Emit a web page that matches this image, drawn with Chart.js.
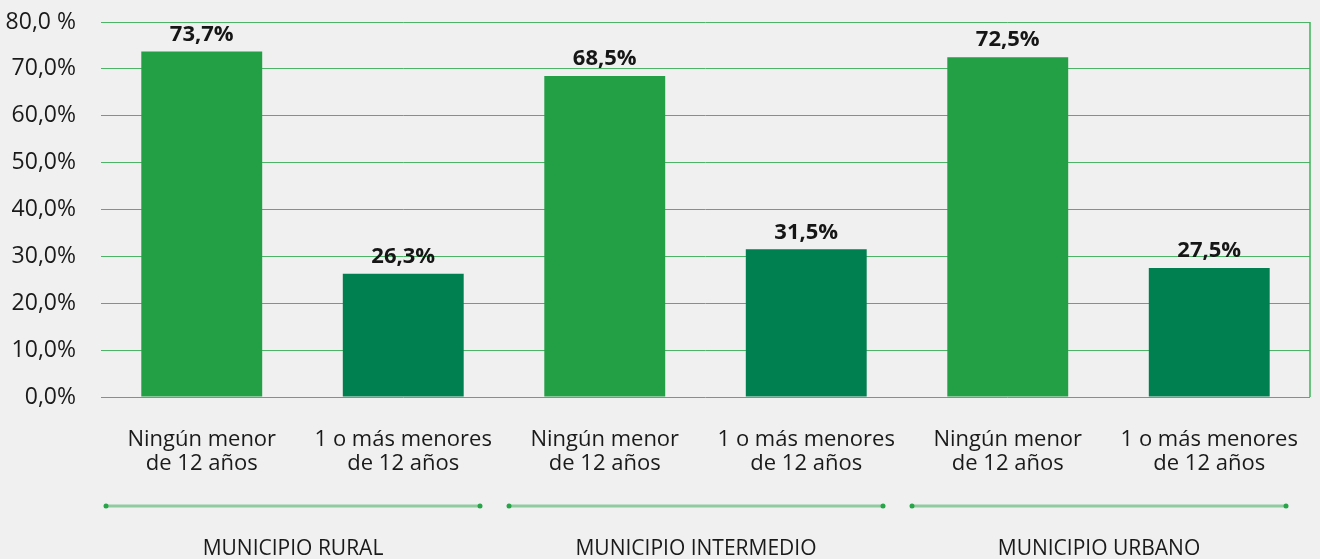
<!DOCTYPE html>
<html>
<head>
<meta charset="utf-8">
<script src="https://cdn.jsdelivr.net/npm/chart.js@4.4.1/dist/chart.umd.min.js"></script>
<style>
    html, body { margin: 0; padding: 0; background: #f0f0f0; }
    #wrap { width: 1320px; height: 559px; }
</style>
</head>
<body>
<div id="wrap"><canvas id="CanvasMenores"></canvas></div>
<script>
// categories (two-line labels under each bar)
const barLabels = [
    ["Ningún menor", "de 12 años"], ["1 o más menores", "de 12 años"],
    ["Ningún menor", "de 12 años"], ["1 o más menores", "de 12 años"],
    ["Ningún menor", "de 12 años"], ["1 o más menores", "de 12 años"]
];
const groupLabels = ["MUNICIPIO RURAL", "MUNICIPIO INTERMEDIO", "MUNICIPIO URBANO"];
const percentValues = [73.7, 26.3, 68.5, 31.5, 72.5, 27.5];
const valueLabels = ["73,7%", "26,3%", "68,5%", "31,5%", "72,5%", "27,5%"];
const yTickLabels = ["0,0%", "10,0%", "20,0%", "30,0%", "40,0%", "50,0%", "60,0%", "70,0%", "80,0 %"];

const barColors = ["#239f46", "#008051", "#239f46", "#008051", "#239f46", "#008051"];

// draws the value labels, right border and the group lines under the axis
const extrasPlugin = {
    id: 'extras',
    afterDatasetsDraw(chart) {
        const ctx = chart.ctx;
        const area = chart.chartArea;
        const xScale = chart.scales.x;
        const meta = chart.getDatasetMeta(0);

        ctx.save();
        // right border of the plot
        ctx.strokeStyle = "#3cb55a";
        ctx.lineWidth = 1.5;
        ctx.beginPath();
        ctx.moveTo(area.right, area.top);
        ctx.lineTo(area.right, area.bottom);
        ctx.stroke();

        // values above bars
        ctx.fillStyle = "#161616";
        ctx.font = "bold 22px 'Open Sans'";
        ctx.textAlign = "center";
        ctx.textBaseline = "middle";
        meta.data.forEach((bar, i) => {
            ctx.fillText(valueLabels[i], bar.x, bar.y - 17);
        });

        // group separator lines + group titles
        const catWidth = xScale.width / barLabels.length;
        const lineY = 506;
        groupLabels.forEach((title, g) => {
            const left = xScale.getPixelForValue(g * 2) - catWidth / 2 + 5;
            const right = xScale.getPixelForValue(g * 2 + 1) + catWidth / 2 - 24;
            ctx.strokeStyle = "#8fcb9e";
            ctx.lineWidth = 3;
            ctx.beginPath();
            ctx.moveTo(left, lineY);
            ctx.lineTo(right, lineY);
            ctx.stroke();
            ctx.fillStyle = "#27a548";
            [left, right].forEach(px => {
                ctx.beginPath();
                ctx.arc(px, lineY, 2.5, 0, Math.PI * 2);
                ctx.fill();
            });
            ctx.fillStyle = "#1a1a1a";
            ctx.font = "21px 'Open Sans'";
            ctx.fillText(title, (left + right) / 2, 549);
        });
        ctx.restore();
    }
};

new Chart(document.getElementById("CanvasMenores"), {
    type: 'bar',
    data: {
        labels: barLabels,
        datasets: [{
            data: percentValues,
            backgroundColor: barColors,
            borderWidth: 0,
            categoryPercentage: 1,
            barPercentage: 0.6
        }]
    },
    options: {
        responsive: true,
        maintainAspectRatio: false,
        animation: false,
        layout: {
            padding: { top: 22, right: 10, left: 0, bottom: 0 }
        },
        plugins: {
            legend: { display: false },
            tooltip: { enabled: false }
        },
        scales: {
            x: {
                grid: { display: false, drawTicks: false },
                border: { display: false },
                ticks: {
                    color: "#1a1a1a",
                    font: { family: "'Open Sans'", size: 22, lineHeight: 1.12 },
                    padding: 30,
                    maxRotation: 0,
                    autoSkip: false
                },
                afterFit: function (scale) {
                    scale.height = 162;
                    scale.paddingLeft = 0;
                    scale.paddingRight = 0;
                }
            },
            y: {
                min: 0,
                max: 80,
                grid: { color: "#4db467", lineWidth: 1, drawTicks: false },
                border: { display: false },
                ticks: {
                    stepSize: 10,
                    color: "#1a1a1a",
                    font: { family: "'Open Sans'", size: 23 },
                    padding: 25,
                    callback: function (value) { return yTickLabels[Math.round(value / 10)]; }
                },
                afterFit: function (scale) {
                    scale.width = 101;
                    scale.paddingTop = 0;
                    scale.paddingBottom = 0;
                }
            }
        }
    },
    plugins: [extrasPlugin]
});
</script>
</body>
</html>
